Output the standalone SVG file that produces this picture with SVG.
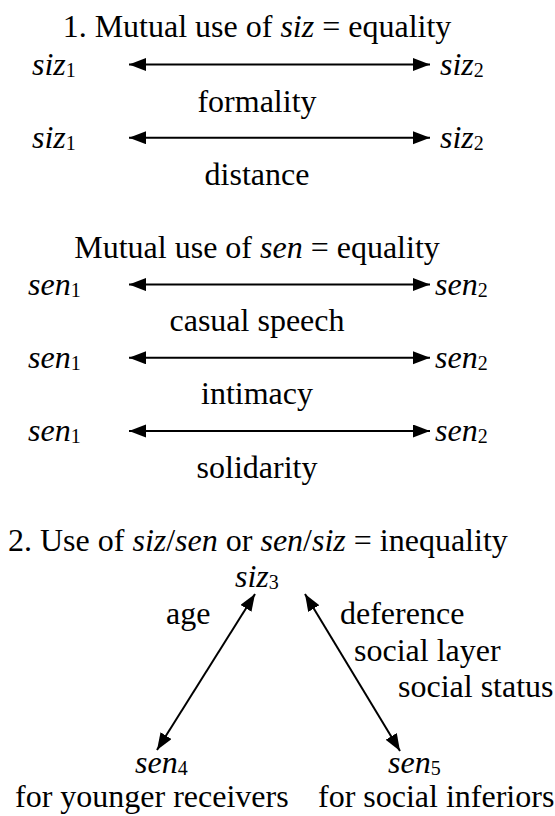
<svg xmlns="http://www.w3.org/2000/svg" width="555" height="816" viewBox="0 0 555 816">
  <style>
    text { font-family: "Liberation Serif", "Times New Roman", serif; font-size: 32px; fill: #000; }
    .i { font-style: italic; }
    .sub { font-size: 20px; font-style: normal; }
    .c { text-anchor: middle; }
    .arrow { stroke: #000; stroke-width: 2; fill: none; marker-start: url(#ah); marker-end: url(#ah); }
  </style>
  <defs>
    <marker id="ah" markerUnits="userSpaceOnUse" markerWidth="18" markerHeight="14" refX="17" refY="6.5" orient="auto-start-reverse">
      <path d="M0,0 L17,6.5 L0,13 Z" fill="#000"/>
    </marker>
  </defs>
  <rect width="555" height="816" fill="#fff"/>

  <g id="title1"><text class="c" x="257" y="37">1. Mutual use of <tspan class="i">siz</tspan> = equality</text></g>

  <g id="siz1a"><text x="32" y="75"><tspan class="i">siz</tspan><tspan class="sub" dy="2">1</tspan></text></g>
  <g id="siz2a"><text x="440" y="75"><tspan class="i">siz</tspan><tspan class="sub" dy="2">2</tspan></text></g>
  <g id="formality"><text class="c" x="257" y="111.6">formality</text></g>
  <g id="siz1b"><text x="32" y="148.2"><tspan class="i">siz</tspan><tspan class="sub" dy="2">1</tspan></text></g>
  <g id="siz2b"><text x="440" y="148.2"><tspan class="i">siz</tspan><tspan class="sub" dy="2">2</tspan></text></g>
  <g id="distance"><text class="c" x="257" y="184.8">distance</text></g>

  <g id="title-sen"><text class="c" x="257" y="258">Mutual use of <tspan class="i">sen</tspan> = equality</text></g>
  <g id="sen1a"><text x="28" y="294.6"><tspan class="i">sen</tspan><tspan class="sub" dy="2">1</tspan></text></g>
  <g id="sen2a"><text x="435" y="294.6"><tspan class="i">sen</tspan><tspan class="sub" dy="2">2</tspan></text></g>
  <g id="casual"><text class="c" x="257" y="331.2">casual speech</text></g>
  <g id="sen1b"><text x="28" y="367.8"><tspan class="i">sen</tspan><tspan class="sub" dy="2">1</tspan></text></g>
  <g id="sen2b"><text x="435" y="367.8"><tspan class="i">sen</tspan><tspan class="sub" dy="2">2</tspan></text></g>
  <g id="intimacy"><text class="c" x="257" y="404.4">intimacy</text></g>
  <g id="sen1c"><text x="28" y="441"><tspan class="i">sen</tspan><tspan class="sub" dy="2">1</tspan></text></g>
  <g id="sen2c"><text x="435" y="441"><tspan class="i">sen</tspan><tspan class="sub" dy="2">2</tspan></text></g>
  <g id="solidarity"><text class="c" x="257" y="477.6">solidarity</text></g>

  <g id="title2"><text x="8" y="550.8">2. Use of <tspan class="i">siz</tspan>/<tspan class="i">sen</tspan> or <tspan class="i">sen</tspan>/<tspan class="i">siz</tspan> = inequality</text></g>
  <g id="siz3"><text x="235" y="587.4"><tspan class="i">siz</tspan><tspan class="sub" dy="2">3</tspan></text></g>
  <g id="age"><text x="166" y="624">age</text></g>
  <g id="reasons">
    <text x="340" y="624">deference</text>
    <text x="354" y="660.6">social layer</text>
    <text x="398" y="697.2">social status</text>
  </g>
  <g id="sen4">
    <text x="135" y="773"><tspan class="i">sen</tspan><tspan class="sub" dy="2">4</tspan></text>
    <text x="15" y="807">for younger receivers</text>
  </g>
  <g id="sen5">
    <text x="388" y="773"><tspan class="i">sen</tspan><tspan class="sub" dy="2">5</tspan></text>
    <text x="318" y="807">for social inferiors</text>
  </g>

  <g id="connectors">
    <line class="arrow" x1="129" y1="64.5" x2="430" y2="64.5"/>
    <line class="arrow" x1="129" y1="137.7" x2="430" y2="137.7"/>
    <line class="arrow" x1="129" y1="284.6" x2="430" y2="284.6"/>
    <line class="arrow" x1="129" y1="357.8" x2="430" y2="357.8"/>
    <line class="arrow" x1="129" y1="431" x2="430" y2="431"/>
    <line class="arrow" x1="157" y1="750" x2="255" y2="594"/>
    <line class="arrow" x1="400" y1="751" x2="305" y2="594"/>
  </g>
</svg>
